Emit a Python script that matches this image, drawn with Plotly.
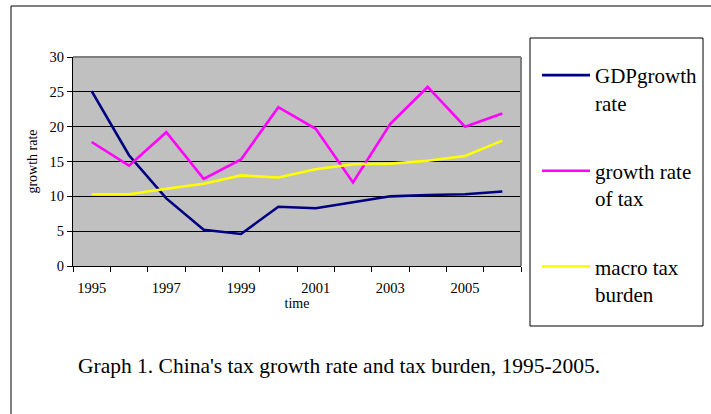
import plotly.graph_objects as go

W, H = 711, 414

years = [1995, 1996, 1997, 1998, 1999, 2000, 2001, 2002, 2003, 2004, 2005, 2006]
gdp_growth = [25.1, 15.9, 9.7, 5.2, 4.6, 8.5, 8.3, 9.1, 10.0, 10.2, 10.3, 10.7]
tax_growth = [17.8, 14.4, 19.2, 12.5, 15.3, 22.8, 19.7, 12.0, 20.4, 25.7, 20.0, 21.9]
tax_burden = [10.3, 10.3, 11.1, 11.8, 13.0, 12.7, 13.9, 14.6, 14.7, 15.1, 15.8, 18.0]
x_ticklabels = ["1995", "1997", "1999", "2001", "2003", "2005"]
series_names = ["GDPgrowth<br>rate", "growth rate<br>of tax", "macro tax<br>burden"]
series_colors = ["#000080", "#FF00FF", "#FFFF00"]

FONT = "Liberation Serif"

def px(x):
    return x / W

def py(y):
    return 1 - y / H

fig = go.Figure()
for i, (vals, name, col) in enumerate(zip([gdp_growth, tax_growth, tax_burden], series_names, series_colors)):
    fig.add_trace(go.Scatter(x=years, y=vals, mode="lines", name=name,
                             legendgroup=f"g{i}",
                             line=dict(color=col, width=2.6)))

plot_l, plot_r, plot_t, plot_b = 73, 521, 57, 266

fig.update_layout(
    template="none",
    width=W, height=H,
    margin=dict(l=0, r=0, t=0, b=0, pad=0, autoexpand=False),
    paper_bgcolor="white",
    plot_bgcolor="#C0C0C0",
    font=dict(family=FONT, color="black", size=14),
    showlegend=True,
    legend=dict(x=px(537), y=py(55), xanchor="left", yanchor="top",
                font=dict(family=FONT, size=21, color="black"),
                bgcolor="rgba(0,0,0,0)", borderwidth=0,
                traceorder="grouped", tracegroupgap=38,
                valign="top", itemwidth=48),
    xaxis=dict(domain=[px(plot_l), px(plot_r)], range=[1994.5, 2006.5], automargin=False,
               tickmode="array", tickvals=[int(t) for t in x_ticklabels], ticktext=x_ticklabels,
               ticks="", showgrid=False, zeroline=False, ticklabelstandoff=9,
               showline=True, linecolor="black", linewidth=1,
               tickfont=dict(size=14.5, family=FONT),
               minor=dict(ticks="outside", tickmode="linear", tick0=1994.5, dtick=1,
                          ticklen=5, tickcolor="black", showgrid=False),
               title=dict(text="time", font=dict(size=14, family=FONT), standoff=0)),
    yaxis=dict(domain=[py(plot_b), py(plot_t)], range=[0, 30], dtick=5, automargin=False,
               ticks="outside", ticklen=5, tickcolor="black",
               showgrid=True, gridcolor="black", gridwidth=1,
               zeroline=False, showline=True, linecolor="black", linewidth=1,
               tickfont=dict(size=14.5, family=FONT),
               title=dict(text="growth rate", font=dict(size=14, family=FONT), standoff=8)),
)

# plot-area border (top and right, grey as in the reference)
fig.add_shape(type="line", xref="paper", yref="paper", x0=px(plot_l), x1=px(plot_r),
              y0=py(plot_t), y1=py(plot_t), line=dict(color="#808080", width=2))
fig.add_shape(type="line", xref="paper", yref="paper", x0=px(plot_r), x1=px(plot_r),
              y0=py(plot_t), y1=py(plot_b), line=dict(color="#808080", width=2))
# legend box
fig.add_shape(type="rect", xref="paper", yref="paper", x0=px(530), x1=px(703),
              y0=py(326), y1=py(38), line=dict(color="black", width=1))
# outer frame
fig.add_shape(type="line", xref="paper", yref="paper", x0=px(11), x1=1.0,
              y0=py(6), y1=py(6), line=dict(color="black", width=1))
fig.add_shape(type="line", xref="paper", yref="paper", x0=px(11), x1=px(11),
              y0=py(6), y1=0.0, line=dict(color="black", width=1))

fig.add_annotation(text="Graph 1. China's tax growth rate and tax burden, 1995-2005.",
                   xref="paper", yref="paper", x=px(76), y=py(366),
                   xanchor="left", yanchor="middle", showarrow=False,
                   font=dict(family=FONT, size=21.5, color="black"))

fig.write_html("out.html", config={"displayModeBar": False},
               post_script="document.body.style.margin='0';document.body.style.padding='0';")
